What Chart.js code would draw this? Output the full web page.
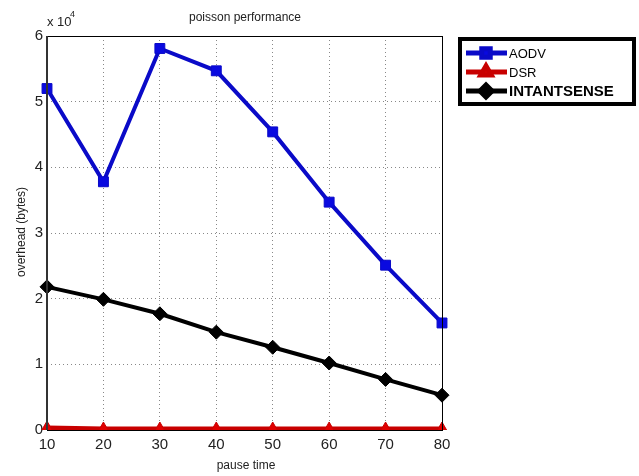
<!DOCTYPE html>
<html>
<head>
<meta charset="utf-8">
<script src="https://cdn.jsdelivr.net/npm/chart.js@4"></script>
<style>
  body { margin: 0; background: #fff; }
  #wrap { width: 639px; height: 476px; }
</style>
</head>
<body>
<div id="wrap"><canvas id="perfChart" width="639" height="476"></canvas></div>
<script>
// Data
const pauseTimes = ['10', '20', '30', '40', '50', '60', '70', '80'];
const aodvOverhead = [52000, 37800, 58100, 54700, 45400, 34700, 25100, 16300];
const dsrOverhead = [300, 150, 150, 150, 150, 150, 150, 150];
const intantOverhead = [21800, 19900, 17700, 14900, 12600, 10200, 7700, 5300];
const yTicks = [0, 1, 2, 3, 4, 5, 6];

const FONT = '"Liberation Sans Narrow", "Liberation Sans", Arial, sans-serif';

// Title, axis titles, exponent, box and legend drawn on the canvas
const decorations = {
    id: 'decorations',
    afterDraw(chart) {
        const c = chart.ctx;
        const a = chart.chartArea;
        c.save();
        // box
        c.strokeStyle = '#000';
        c.lineWidth = 1;
        c.strokeRect(a.left + 0.5, a.top + 0.5, a.right - a.left, a.bottom - a.top);
        c.strokeStyle = '#333';
        c.lineWidth = 2;
        c.beginPath();
        c.moveTo(a.left, a.top);
        c.lineTo(a.left, a.bottom);
        c.stroke();

        c.fillStyle = '#222';
        c.textAlign = 'center';
        c.textBaseline = 'middle';
        c.font = '12px ' + FONT;
        c.fillText('poisson performance', 245, 18);
        c.fillText('pause time', 246, 466);

        c.save();
        c.translate(22, 232);
        c.rotate(-Math.PI / 2);
        c.fillText('overhead (bytes)', 0, 0);
        c.restore();

        c.textAlign = 'left';
        c.font = '13px ' + FONT;
        c.fillText('x 10', 47, 22);
        c.font = '9px ' + FONT;
        c.fillText('4', 70, 15);

        // legend
        c.strokeStyle = '#000';
        c.lineWidth = 4;
        c.strokeRect(460, 39, 174, 65);
        const items = [
            { ds: chart.data.datasets[0], y: 53, font: '13px ' + FONT },
            { ds: chart.data.datasets[1], y: 72, font: '13px ' + FONT },
            { ds: chart.data.datasets[2], y: 91, font: 'bold 15px ' + FONT }
        ];
        items.forEach(it => {
            c.strokeStyle = it.ds.borderColor;
            c.fillStyle = it.ds.backgroundColor;
            c.lineWidth = 5;
            c.beginPath();
            c.moveTo(466, it.y);
            c.lineTo(507, it.y);
            c.stroke();
            Chart.helpers.drawPoint(c, {
                pointStyle: it.ds.pointStyle,
                radius: 6,
                borderWidth: 1
            }, 486, it.y);
            c.fillStyle = '#000';
            c.font = it.font;
            c.fillText(it.ds.label, 509, it.y + 1);
        });
        c.restore();
    }
};

const config = {
    type: 'line',
    data: {
        labels: pauseTimes,
        datasets: [{
            label: 'AODV',
            data: aodvOverhead,
            borderColor: '#0a0ac8',
            backgroundColor: '#0a0ae0',
            borderWidth: 4,
            pointStyle: 'rect',
            pointRadius: 7,
            pointBorderWidth: 1
        }, {
            label: 'DSR',
            data: dsrOverhead,
            borderColor: '#c80000',
            backgroundColor: '#e00000',
            borderWidth: 5,
            pointStyle: 'triangle',
            pointRadius: 7,
            pointBorderWidth: 1
        }, {
            label: 'INTANTSENSE',
            data: intantOverhead,
            borderColor: '#000',
            backgroundColor: '#000',
            borderWidth: 4,
            pointStyle: 'rectRot',
            pointRadius: 7,
            pointBorderWidth: 1
        }]
    },
    options: {
        responsive: false,
        animation: false,
        layout: { padding: { top: 36, right: 197, left: 0, bottom: 0 } },
        plugins: {
            legend: { display: false },
            title: { display: false },
            tooltip: { enabled: false }
        },
        scales: {
            x: {
                offset: false,
                grid: {
                    color: '#888',
                    drawTicks: false
                },
                border: { display: false, dash: [1, 3] },
                ticks: {
                    color: '#222',
                    font: { family: FONT, size: 15 },
                    padding: 6,
                    maxRotation: 0
                },
                afterFit(scale) { scale.height = 46; }
            },
            y: {
                min: 0,
                max: 60000,
                grid: {
                    color: '#888',
                    drawTicks: false
                },
                border: { display: false, dash: [1, 3] },
                afterBuildTicks(scale) {
                    scale.ticks = yTicks.map(v => ({ value: v * 10000 }));
                },
                ticks: {
                    color: '#222',
                    font: { family: FONT, size: 15 },
                    padding: 4,
                    callback: v => String(v / 10000)
                },
                afterFit(scale) { scale.width = 47; }
            }
        }
    },
    plugins: [decorations]
};

const ctx = document.getElementById('perfChart').getContext('2d');
const perfChart = new Chart(ctx, config);
</script>
</body>
</html>
